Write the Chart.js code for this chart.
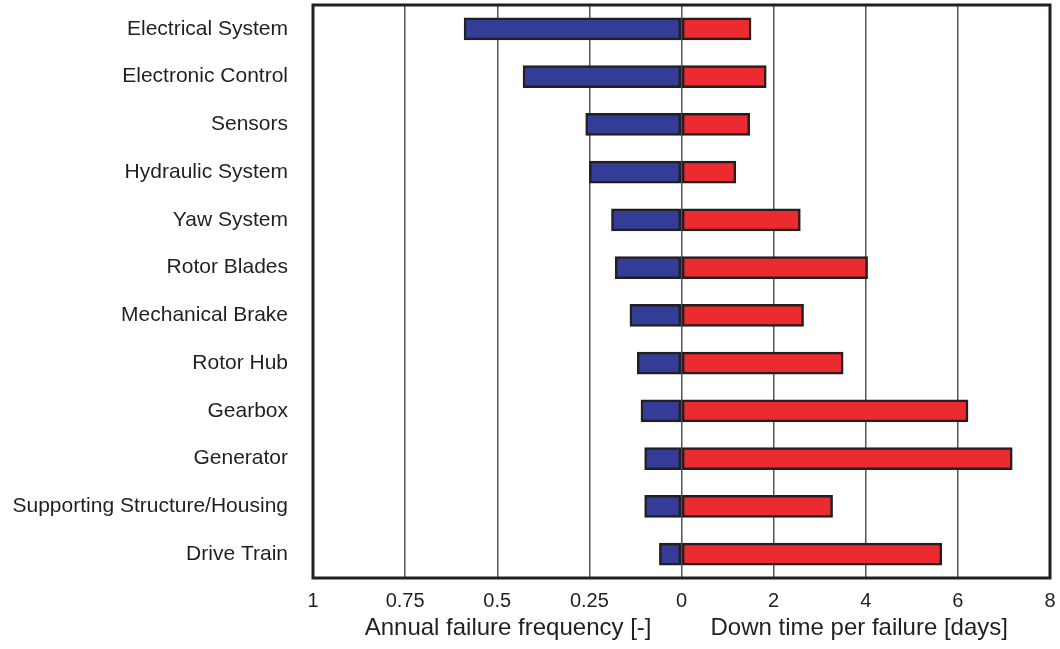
<!DOCTYPE html>
<html>
<head>
<meta charset="utf-8">
<script src="https://cdn.jsdelivr.net/npm/chart.js@4"></script>
<style>
  html, body { margin: 0; padding: 0; background: #fff; }
  #wrap { width: 1060px; height: 649px; position: relative; }
</style>
</head>
<body>
<div id="wrap"><canvas id="chart"></canvas></div>
<script>
// categorias (de cima para baixo)
const components = [
    'Electrical System', 'Electronic Control', 'Sensors', 'Hydraulic System',
    'Yaw System', 'Rotor Blades', 'Mechanical Brake', 'Rotor Hub',
    'Gearbox', 'Generator', 'Supporting Structure/Housing', 'Drive Train'
];
// frequência anual de falhas [-]
const failureFrequency = [0.59, 0.43, 0.26, 0.25, 0.19, 0.18, 0.14, 0.12, 0.11, 0.10, 0.10, 0.06];
// tempo de paragem por falha [dias]
const downTimeDays = [1.51, 1.84, 1.48, 1.18, 2.58, 4.04, 2.65, 3.51, 6.22, 7.18, 3.28, 5.65];

// o lado esquerdo usa a mesma escala: 1.0 de frequência = 8 dias
const FREQ_TO_DAYS = 8;
const xTicks = [-8, -6, -4, -2, 0, 2, 4, 6, 8];

const textColor = '#231f20';
const fontFamily = '"Liberation Sans", Arial, Helvetica, sans-serif';

const frameAndTitles = {
    id: 'frameAndTitles',
    afterDatasetsDraw(chart) {
        const { ctx, chartArea: a, scales } = chart;
        const x0 = scales.x.getPixelForValue(0);
        ctx.save();
        // moldura à volta da área do gráfico
        ctx.strokeStyle = textColor;
        ctx.lineWidth = 3;
        ctx.strokeRect(a.left, a.top, a.right - a.left, a.bottom - a.top);
        // títulos dos dois eixos
        ctx.fillStyle = textColor;
        ctx.font = '24px ' + fontFamily;
        ctx.textBaseline = 'middle';
        ctx.textAlign = 'right';
        ctx.fillText('Annual failure frequency [-]', x0 - 30, 628);
        ctx.textAlign = 'left';
        ctx.fillText('Down time per failure [days]', x0 + 29, 628);
        ctx.restore();
    }
};

const barStyle = {
    borderColor: textColor,
    borderWidth: 2.5,
    borderSkipped: false,
    barThickness: 22
};

new Chart(document.getElementById('chart'), {
    type: 'bar',
    data: {
        labels: components,
        datasets: [
            {
                label: 'Annual failure frequency',
                data: failureFrequency.map(f => -f * FREQ_TO_DAYS),
                backgroundColor: '#333c97',
                ...barStyle
            },
            {
                label: 'Down time per failure',
                data: downTimeDays,
                backgroundColor: '#ec2b30',
                ...barStyle
            }
        ]
    },
    options: {
        indexAxis: 'y',
        responsive: true,
        maintainAspectRatio: false,
        animation: false,
        layout: { padding: { top: 5, right: 10, left: 0, bottom: 0 } },
        scales: {
            x: {
                type: 'linear',
                stacked: true,
                min: -8,
                max: 8,
                afterBuildTicks: scale => { scale.ticks = xTicks.map(v => ({ value: v })); },
                afterFit: scale => {
                    scale.height = 71;
                    scale.paddingLeft = 0;
                    scale.paddingRight = 0;
                },
                ticks: {
                    color: textColor,
                    padding: 11,
                    font: { family: fontFamily, size: 20 },
                    callback: v => v < 0 ? String(-v / FREQ_TO_DAYS) : String(v)
                },
                grid: { color: '#555', lineWidth: 1.5, drawTicks: false },
                border: { display: false }
            },
            y: {
                stacked: true,
                afterFit: scale => {
                    scale.width = 313;
                    scale.paddingTop = 0;
                    scale.paddingBottom = 0;
                },
                ticks: {
                    color: textColor,
                    padding: 25,
                    font: { family: fontFamily, size: 21 }
                },
                grid: { display: false, drawTicks: false },
                border: { display: false }
            }
        },
        plugins: {
            legend: { display: false },
            tooltip: { enabled: false }
        }
    },
    plugins: [frameAndTitles]
});
</script>
</body>
</html>
